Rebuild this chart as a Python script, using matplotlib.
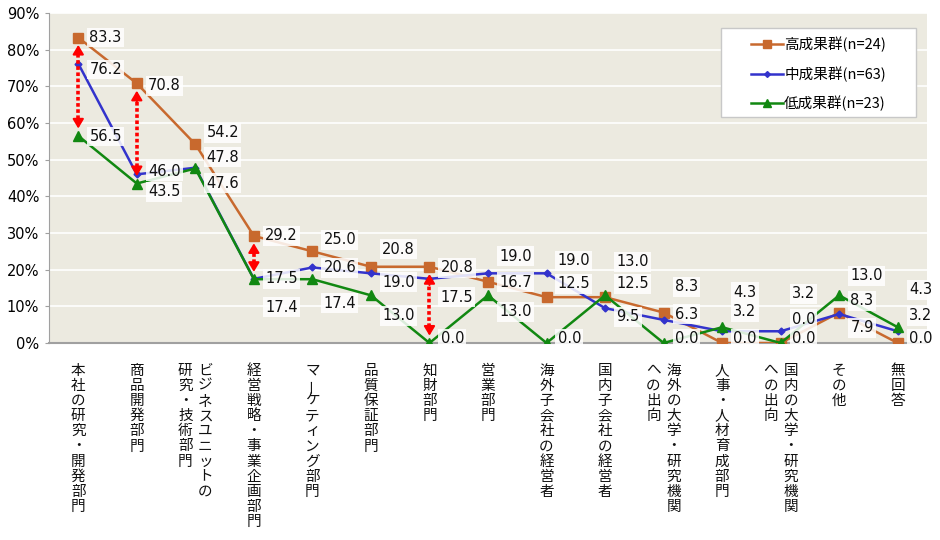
import matplotlib
matplotlib.use("Agg")
import matplotlib.pyplot as plt
from matplotlib.patches import Rectangle
import numpy as np

# vertical category labels, columns in reading order (right to left)
categories = [
    ["本社の研究・開発部門"],
    ["商品開発部門"],
    ["ビジネスユニットの", "研究・技術部門"],
    ["経営戦略・事業企画部門"],
    ["マーケティング部門"],
    ["品質保証部門"],
    ["知財部門"],
    ["営業部門"],
    ["海外子会社の経営者"],
    ["国内子会社の経営者"],
    ["海外の大学・研究機関", "への出向"],
    ["人事・人材育成部門"],
    ["国内の大学・研究機関", "への出向"],
    ["その他"],
    ["無回答"],
]
high = [83.3, 70.8, 54.2, 29.2, 25.0, 20.8, 20.8, 16.7, 12.5, 12.5, 8.3, 0.0, 0.0, 8.3, 0.0]
mid = [76.2, 46.0, 47.8, 17.5, 20.6, 19.0, 17.5, 19.0, 19.0, 9.5, 6.3, 3.2, 3.2, 7.9, 3.2]
low = [56.5, 43.5, 47.6, 17.4, 17.4, 13.0, 0.0, 13.0, 0.0, 13.0, 0.0, 4.3, 0.0, 13.0, 4.3]
series_names = ["高成果群(n=24)", "中成果群(n=63)", "低成果群(n=23)"]
arrow_cats = [0, 1, 3, 6]

# where the data labels sit (y, percent units), hand-placed like the original
lab_high = [83.4, 70.1, 57.3, 29.2, 28.1, 25.6, 20.5, 16.6, 16.1, 16.1, 15.3, 1.1, 6.5, 11.5, 1.1]
lab_mid = [74.6, 46.9, 50.7, 17.5, 20.5, 16.6, 12.5, 23.7, 22.4, 7.1, 7.9, 8.5, 13.4, 4.1, 7.4]
lab_low = [56.4, 41.2, 43.6, 9.8, 10.9, 7.4, 1.1, 8.5, 1.1, 22.1, 1.1, 13.9, 1.1, 18.3, 14.5]

c_high, c_mid, c_low = "#C8692E", "#3333CC", "#118811"
jp = ["Noto Sans CJK JP", "DejaVu Sans"]

fig = plt.figure(figsize=(9.4, 5.4), dpi=100)
ax = fig.add_axes([49 / 940, 1 - 343 / 540, 878 / 940, 330 / 540])
ax.set_facecolor("#ECEAE0")
xs = np.arange(len(categories))

l1, = ax.plot(xs, high, color=c_high, lw=1.8, marker="s", ms=6.5, label=series_names[0], zorder=4)
l2, = ax.plot(xs, mid, color=c_mid, lw=1.8, marker="D", ms=3.5, label=series_names[1], zorder=4)
l3, = ax.plot(xs, low, color=c_low, lw=1.8, marker="^", ms=7, label=series_names[2], zorder=4)

box = dict(boxstyle="square,pad=0.15", fc="white", ec="none", alpha=0.85)
for vals, labs in ((high, lab_high), (mid, lab_mid), (low, lab_low)):
    for i, (v, ly) in enumerate(zip(vals, labs)):
        ax.annotate(f"{v:.1f}", xy=(i, ly), xytext=(8, 0), textcoords="offset points",
                    ha="left", va="center", fontsize=10.5, family="DejaVu Sans",
                    color="#111111", bbox=box, zorder=5)

# red dotted double arrows showing the gap high vs low
for i in arrow_cats:
    top, bot = high[i] - 2, low[i] + 2
    ax.vlines(i, bot + 2.5, top - 2.5, colors="red", linestyles=(0, (1, 0.7)), lw=2.6, zorder=6)
    for y0, y1 in ((top - 3, top), (bot + 3, bot)):
        ax.annotate("", xy=(i, y1), xytext=(i, y0),
                    arrowprops=dict(arrowstyle="-|>,head_length=0.55,head_width=0.33",
                                    color="red", lw=1.5, shrinkA=0, shrinkB=0), zorder=6)

ax.set_xlim(-0.5, len(categories) - 0.5)
ax.set_ylim(0, 90)
ax.set_yticks(np.arange(0, 91, 10))
ax.set_yticklabels([f"{t}%" for t in range(0, 91, 10)], fontsize=10.5, family="DejaVu Sans")
ax.set_xticks([])
ax.grid(axis="y", color="white", lw=1.2)
ax.set_axisbelow(True)
for s in ("top", "right"):
    ax.spines[s].set_visible(False)
ax.spines["left"].set_color("#A0A0A0")
ax.spines["bottom"].set_color("#A0A0A0")
ax.spines["bottom"].set_linewidth(1.5)
ax.tick_params(axis="y", length=3, color="#A0A0A0", pad=4)

# vertical Japanese tick labels, one glyph per row
col_w, char_h, start = 14.5, 10.9, 20
for i, cols in enumerate(categories):
    n = len(cols)
    for k, col in enumerate(cols):
        dx = ((n - 1) / 2 - k) * col_w
        for j, ch in enumerate(col):
            ax.annotate(ch, xy=(i, 0), xycoords=("data", "axes fraction"),
                        xytext=(dx, -start - j * char_h), textcoords="offset points",
                        ha="center", va="center", fontsize=10.5, family=jp,
                        rotation=90 if ch == "ー" else 0, color="#111111",
                        annotation_clip=False)

# legend: white box drawn separately so its padding matches the original
ax.add_patch(Rectangle((0.765, 0.685), 0.222, 0.27, transform=ax.transAxes,
                       fc="white", ec="#C8C8C8", lw=1, zorder=7))
leg = ax.legend([l1, l2, l3], series_names, loc="upper left", bbox_to_anchor=(0.8, 0.928),
                prop={"family": jp, "size": 10.5}, frameon=False, handlelength=2.2,
                labelspacing=0.95, borderpad=0, handletextpad=0.05, borderaxespad=0,
                markerscale=0.85)
leg.set_zorder(8)

fig.savefig("out.png", dpi=100)
